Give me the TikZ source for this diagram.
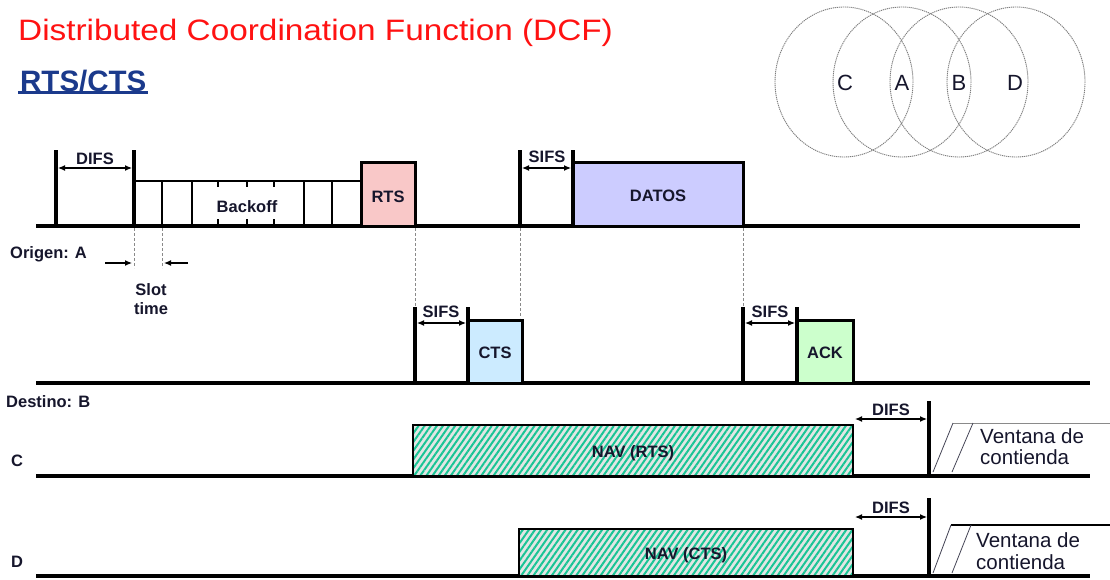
\documentclass[tikz,border=0pt]{standalone}
\usepackage{fontspec}
\setmainfont{Liberation Sans}
\newfontfamily\dcftitlefont{Liberation Sans}[FakeStretch=1.13]
\usetikzlibrary{arrows.meta,patterns.meta}
\definecolor{DCFRed}{HTML}{FF1212}
\definecolor{DCFBlue}{HTML}{1B3A8C}
\definecolor{DCFInk}{HTML}{16162C}
\definecolor{DCFGray}{HTML}{8A8A8A}
\definecolor{RTSPink}{HTML}{F9C8C8}
\definecolor{DATLilac}{HTML}{CCCCFF}
\definecolor{CTSBlue}{HTML}{CCEBFF}
\definecolor{ACKGreen}{HTML}{CCFFCC}
\definecolor{NAVTeal}{HTML}{19C495}
\definecolor{NAVBack}{HTML}{E2E6E4}

\begin{document}
\begin{tikzpicture}[x=1pt,y=-1pt,
  >={Latex[length=7pt,width=6pt]},
  tl/.style={line width=4pt},
  bar/.style={line width=3.5pt},
  frame/.style={draw,line width=3pt},
  navbox/.style={line width=2.5pt,preaction={fill=NAVBack},
    pattern={Lines[angle=55,distance=5pt,line width=2pt]},pattern color=NAVTeal},
  span/.style={<->,line width=1.2pt},
  drop/.style={DCFGray,line width=1pt,dash pattern=on 3pt off 2pt},
  ring/.style={DCFGray!90!black,line width=0.9pt,dash pattern=on 1.2pt off 0.8pt},
  lbl/.style={text=DCFInk,font=\fontsize{16.5}{16.5}\selectfont\bfseries,inner sep=0pt,anchor=base},
  win/.style={text=DCFInk,font=\fontsize{20.5}{20.5}\selectfont,inner sep=0pt,anchor=base west}]
\path[use as bounding box] (0,0) rectangle (1110,579);
\fill[white] (0,0) rectangle (1110,579);
\node[anchor=base west,inner sep=0pt,text=DCFRed,font=\fontsize{29.5}{30}\dcftitlefont] (title) at (18,40) {Distributed Coordination Function (DCF)};
\node[anchor=base west,inner sep=0pt,text=DCFBlue,font=\fontsize{29.5}{30}\selectfont\bfseries] (subtitle) at (20,91) {RTS/CTS};
\draw[DCFBlue,line width=3pt] ([yshift=-0.5pt,xshift=-2pt]subtitle.south west) -- ([yshift=-0.5pt,xshift=1pt]subtitle.south east);
\draw[ring] (844,82) ellipse [x radius=69,y radius=75];
\draw[ring] (902,82) ellipse [x radius=69,y radius=75];
\draw[ring] (959,82) ellipse [x radius=69,y radius=75];
\draw[ring] (1016,82) ellipse [x radius=69,y radius=75];
\node[text=DCFInk,font=\fontsize{22}{22}\selectfont] (stC) at (845,83) {C};
\node[text=DCFInk,font=\fontsize{22}{22}\selectfont] (stA) at (902,83) {A};
\node[text=DCFInk,font=\fontsize{22}{22}\selectfont] (stB) at (959,83) {B};
\node[text=DCFInk,font=\fontsize{22}{22}\selectfont] (stD) at (1015,83) {D};
\draw[drop] (134,228) -- (134,268);
\draw[drop] (162,228) -- (162,268);
\draw[drop] (415,228) -- (415,308);
\draw[drop] (520,228) -- (520,318);
\draw[drop] (743,228) -- (743,308);
\draw[tl] (36,226) -- (1080,226);
\draw[bar] (56,150) -- (56,226);
\draw[bar] (134,150) -- (134,226);
\draw[span] (58,168) -- (132,168);
\node[lbl] (difsA) at (95,164) {DIFS};
\draw[line width=2pt] (134,181) -- (361,181);
\foreach \x in {162,192,304,332}
  \draw[line width=1.5pt] (\x,181) -- (\x,226);
\foreach \x in {218,247,274}
  \draw[line width=1.5pt] (\x,181) -- (\x,187) (\x,219) -- (\x,226);
\node[lbl] (backoff) at (247,212) {Backoff};
\draw[frame,fill=RTSPink] (361,162) rectangle (415,226);
\node[lbl] (rts) at (388,202) {RTS};
\draw[bar] (520,150) -- (520,226);
\draw[line width=4.5pt] (573,150) -- (573,226);
\draw[span] (522,168) -- (571,168);
\node[lbl] (sifsA) at (547,162) {SIFS};
\draw[frame,fill=DATLilac] (573,162) rectangle (743,226);
\node[lbl] (datos) at (658,201) {DATOS};
\node[lbl,anchor=base west] (origen) at (10,258) {Origen: A};
\draw[->,line width=1.2pt] (105,263) -- (132,263);
\draw[->,line width=1.2pt] (188,263) -- (164,263);
\node[lbl] (slot) at (151,295) {Slot};
\node[lbl] (slotb) at (151,314) {time};
\draw[tl] (36,383) -- (1090,383);
\draw[bar] (415,307) -- (415,383);
\draw[bar] (468,307) -- (468,383);
\draw[span] (417,323) -- (466,323);
\node[lbl] (sifsB) at (441,317) {SIFS};
\draw[frame,fill=CTSBlue] (468,320) rectangle (522,383);
\node[lbl] (cts) at (495,358) {CTS};
\draw[bar] (743,307) -- (743,383);
\draw[bar] (797,307) -- (797,383);
\draw[span] (745,323) -- (795,323);
\node[lbl] (sifsC) at (770,317) {SIFS};
\draw[frame,fill=ACKGreen] (797,320) rectangle (853,383);
\node[lbl] (ack) at (825,358) {ACK};
\node[lbl,anchor=base west] (destino) at (6,407) {Destino: B};
\draw[tl] (36,476) -- (1090,476);
\node[lbl,anchor=base west] (rowC) at (11,466) {C};
\draw[navbox] (413,425) rectangle (853,476);
\node[lbl] (navrts) at (633,457) {NAV (RTS)};
\draw[span] (855,419) -- (927,419);
\node[lbl] (difsC) at (891,415) {DIFS};
\draw[bar] (929,401) -- (929,476);
\draw[DCFGray,line width=1pt] (953,423) -- (1110,423);
\draw[DCFInk!80,line width=0.8pt] (933,472) -- (953,423) (952,472) -- (973,423);
\node[win] (ventC) at (980,443) {Ventana de};
\node[win] (contC) at (980,464) {contienda};
\draw[tl] (36,576) -- (1090,576);
\node[lbl,anchor=base west] (rowD) at (11,567) {D};
\draw[navbox] (519,529) rectangle (853,576);
\node[lbl] (navcts) at (686,559) {NAV (CTS)};
\draw[span] (855,517) -- (927,517);
\node[lbl] (difsD) at (891,513) {DIFS};
\draw[bar] (929,498) -- (929,576);
\draw[line width=2pt] (951,525) -- (1110,525);
\draw[DCFInk!80,line width=0.8pt] (933,573) -- (951,525) (952,573) -- (971,525);
\node[win] (ventD) at (976,547) {Ventana de};
\node[win] (contD) at (976,569) {contienda};
\end{tikzpicture}
\end{document}
